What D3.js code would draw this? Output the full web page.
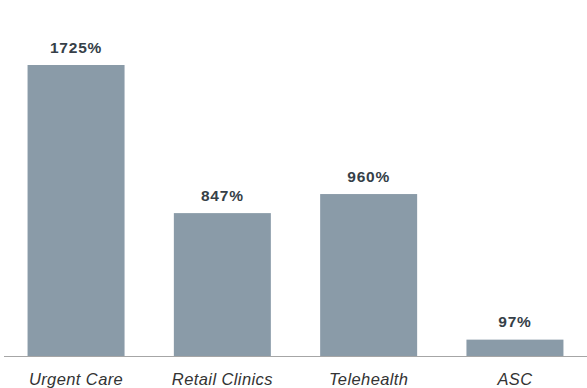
<!DOCTYPE html>
<html><head><meta charset="utf-8">
<script src="https://cdn.jsdelivr.net/npm/d3@7"></script>
<style>body{margin:0;background:#fff;} svg{display:block;}</style>
</head><body>
<svg id="c" width="587" height="388"></svg>
<script>
const categories = ["Urgent Care", "Retail Clinics", "Telehealth", "ASC"];
const values = [1725, 847, 960, 97];
const valueLabels = ["1725%", "847%", "960%", "97%"];

const svg = d3.select("#c");
const baseY = 356;
const x = d3.scaleBand().domain(categories).range([4, 587]).paddingInner(0.337).paddingOuter(0.161);
const y = d3.scaleLinear().domain([0, 1725]).range([baseY, 65]);

svg.selectAll("rect.bar").data(values).join("rect")
  .attr("class", "bar")
  .attr("x", (d, i) => x(categories[i]))
  .attr("width", x.bandwidth())
  .attr("y", d => y(d))
  .attr("height", d => baseY - y(d))
  .attr("fill", "#8a9ba8");

svg.append("line").attr("x1", 4).attr("x2", 587).attr("y1", baseY + 0.5).attr("y2", baseY + 0.5)
  .attr("stroke", "#a6a6a6").attr("stroke-width", 1.2);

svg.selectAll("text.val").data(values).join("text")
  .attr("class", "val")
  .attr("x", (d, i) => x(categories[i]) + x.bandwidth() / 2)
  .attr("y", d => y(d) - 12.5)
  .attr("text-anchor", "middle")
  .attr("font-family", "Liberation Sans, Arial, sans-serif")
  .attr("font-weight", "bold")
  .attr("font-size", 15.5)
  .attr("letter-spacing", 0.8)
  .attr("fill", "#363f48")
  .text((d, i) => valueLabels[i]);

svg.selectAll("text.cat").data(categories).join("text")
  .attr("class", "cat")
  .attr("x", d => x(d) + x.bandwidth() / 2)
  .attr("y", 384.5)
  .attr("text-anchor", "middle")
  .attr("font-family", "Liberation Sans, Arial, sans-serif")
  .attr("font-style", "italic")
  .attr("font-size", 16.5)
  .attr("letter-spacing", 0.4)
  .attr("fill", "#333")
  .text(d => d);
</script>
</body></html>
